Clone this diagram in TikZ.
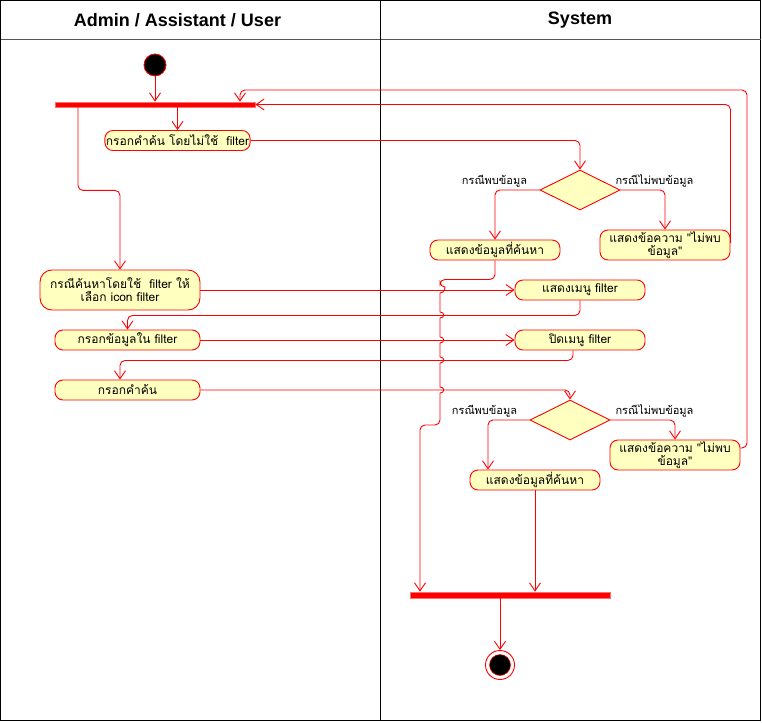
\documentclass[tikz,border=0pt]{standalone}
\usepackage{fontspec}
\setmainfont{Liberation Sans}
\newfontfamily\thai[Script=Thai]{Loma}
\usetikzlibrary{arrows.meta,shapes.geometric}
\definecolor{lred}{HTML}{FF0000}
\definecolor{actfill}{HTML}{FFFFC0}
\definecolor{barline}{HTML}{FF7070}
\definecolor{headline}{HTML}{555555}

\begin{document}
\begin{tikzpicture}[x=1pt,y=-1pt,
  act/.style={draw=lred,fill=actfill,rounded corners=8pt,line width=0.9pt,inner sep=1pt,
    minimum height=20pt,font=\thai\fontsize{12}{13}\selectfont,align=center},
  dec/.style={draw=lred,fill=actfill,diamond,aspect=2,minimum width=80pt,minimum height=40pt,
    inner sep=0pt,line width=0.9pt},
  syncbar/.style={draw=barline,fill=lred,minimum width=200pt,inner sep=0pt,line width=0.8pt},
  flow/.style={draw=lred,line width=0.9pt,rounded corners=5pt,-{Straight Barb[length=8pt,width=11pt]}},
  guard/.style={font=\thai\fontsize{11}{13}\selectfont,inner sep=0pt},
  lanehead/.style={font=\bfseries\fontsize{18}{21}\selectfont}
]
\useasboundingbox (0,0) rectangle (762,722);

% swimlanes
\draw[black,line width=1pt] (0.5,0.5) rectangle (760.5,720.5);
\draw[headline,line width=1pt] (0.5,39.5) -- (760.5,39.5);
\draw[black,line width=1pt] (380.5,0.5) -- (380.5,720.5);
\node[lanehead] (h1) at (177.5,20) {Admin / Assistant / User};
\node[lanehead] (h2) at (580,20) {System};

% start, fork and join bars, end
\node[circle,draw=lred,fill=black,minimum size=22pt,inner sep=0pt,line width=0.8pt] (start) at (155,65) {};
\node[syncbar,minimum height=5pt] (bar1) at (155,104.5) {};
\node[syncbar,minimum height=6pt] (bar2) at (510,595) {};
\node[circle,draw=lred,fill=white,minimum size=29pt,inner sep=0pt,line width=0.9pt] (end) at (500,665) {};
\node[circle,draw=lred,fill=black,minimum size=21pt,inner sep=0pt,line width=0.5pt] (endcore) at (end) {};

% user actions
\node[act,minimum width=145pt] (n1) at (177.5,140.5) {กรอกคำค้น โดยไม่ใช้~~filter};
\node[act,minimum width=160pt,minimum height=40pt,rounded corners=12pt] (n2) at (120,290)
  {กรณีค้นหาโดยใช้~~filter ให้\\เลือก icon filter};
\node[act,minimum width=145pt] (n3) at (127.5,340) {กรอกข้อมูลใน filter};
\node[act,minimum width=145pt] (n4) at (127.5,390) {กรอกคำค้น};

% system actions
\node[dec] (d1) at (580,190) {};
\node[act,minimum width=130pt] (n5a) at (495,250) {แสดงข้อมูลที่ค้นหา};
\node[act,minimum width=130pt,minimum height=30pt] (n6a) at (665,245) {แสดงข้อความ "ไม่พบ\\ข้อมูล"};
\node[act,minimum width=130pt] (n7) at (580,290) {แสดงเมนู filter};
\node[act,minimum width=130pt] (n8) at (580,340) {ปิดเมนู filter};
\node[dec] (d2) at (570,420) {};
\node[act,minimum width=130pt] (n5b) at (535,480) {แสดงข้อมูลที่ค้นหา};
\node[act,minimum width=130pt,minimum height=30pt] (n6b) at (675,455) {แสดงข้อความ "ไม่พบ\\ข้อมูล"};

% guards
\node[guard] (g1) at (494.5,181) {กรณีพบข้อมูล};
\node[guard] (g2) at (654.5,181) {กรณีไม่พบข้อมูล};
\node[guard] (g3) at (484.5,411) {กรณีพบข้อมูล};
\node[guard] (g4) at (654.5,411) {กรณีไม่พบข้อมูล};

% control flow
\draw[flow] (start.south) -- (bar1.north);
\draw[flow] (bar1.south -| n1.north) -- (n1.north);
\draw[flow] (n1.east) -| (d1.north);
\draw[flow] (d1.west) -| (n5a.north);
\draw[flow] (d1.east) -| (n6a.north);
\draw[flow] ([yshift=2pt]n6a.east) |- (bar1.east);
\coordinate (loopR) at (747,90);
\draw[flow] ([yshift=7pt]n6b.east) -| (loopR) -| ([xshift=85pt]bar1.north);
\draw[flow] ([xshift=-77pt]bar1.south) -- ++(0,83) -| (n2.north);
\draw[flow] (n2.east) -- (n7.west);
\draw[flow] (n7.south) -- ++(0,15) -| (n3.north);
\draw[flow] (n3.east) -- (n8.west);
\draw[flow] ([xshift=-7pt]n8.south) -- ++(0,10) -| ([xshift=-7.5pt]n4.north);
\draw[flow] (n4.east) -| (d2.north);
\draw[flow] (d2.west) -| ([xshift=-47pt]n5b.north);
\draw[flow] (d2.east) -| (n6b.north);
\draw[flow] (n5a.south) -- ++(0,19) -| (440,287) [sharp corners]
  .. controls (445,287) and (445,293) .. (440,293) -- (440,312)
  .. controls (445,312) and (445,318) .. (440,318) -- (440,337)
  .. controls (445,337) and (445,343) .. (440,343) -- (440,357)
  .. controls (445,357) and (445,363) .. (440,363) -- (440,387)
  .. controls (445,387) and (445,393) .. (440,393)
  [rounded corners=5pt] -- (440,425) -- (420,425) -- ([xshift=-90pt]bar2.north);
\draw[flow] (n5b.south) -- (n5b.south |- bar2.north);
\draw[flow] ([xshift=-10pt]bar2.south) -- (end.north);
\end{tikzpicture}
\end{document}
